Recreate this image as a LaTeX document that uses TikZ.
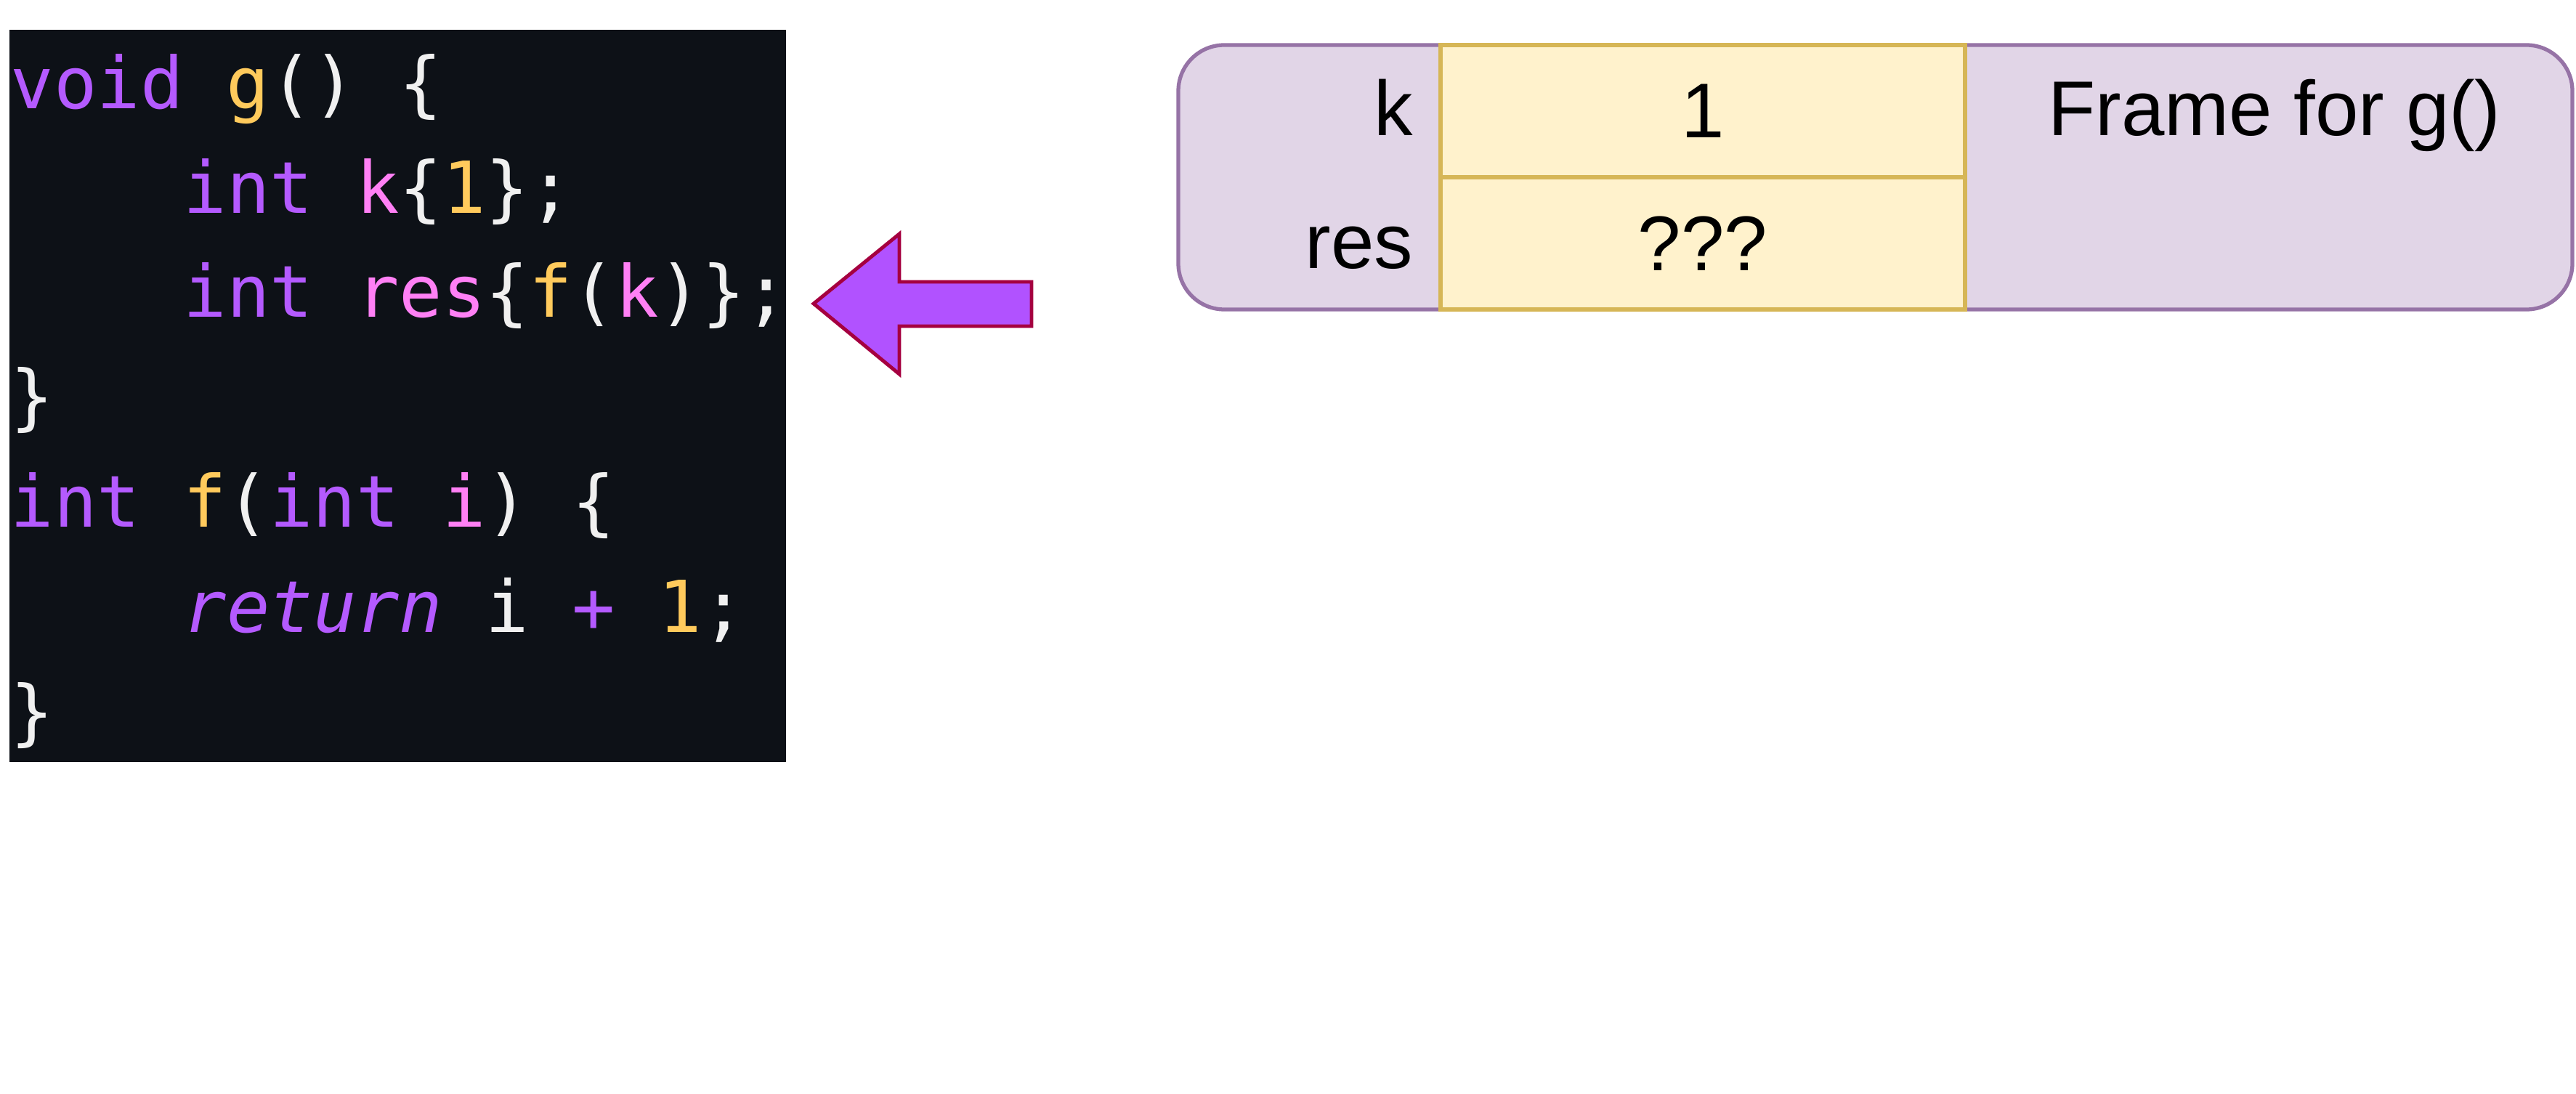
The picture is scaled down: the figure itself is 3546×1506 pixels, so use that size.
\documentclass[tikz,border=0pt]{standalone}
\usepackage{fontspec}
\setmainfont{Liberation Sans}
\newfontfamily\codefont{DejaVu Sans Mono}
\usetikzlibrary{positioning}

\definecolor{codebg}{HTML}{0D1117}
\definecolor{codewhite}{HTML}{F0F0F0}
\definecolor{codepurple}{HTML}{B45AFF}
\definecolor{codeyellow}{HTML}{FFCA5C}
\definecolor{codepink}{HTML}{FF80F5}
\definecolor{framefill}{HTML}{E1D5E7}
\definecolor{framedraw}{HTML}{9673A6}
\definecolor{cellfill}{HTML}{FFF2CC}
\definecolor{celldraw}{HTML}{D6B656}
\definecolor{arrowfill}{HTML}{B152FF}
\definecolor{arrowdraw}{HTML}{A50040}

\newcommand\ckw[1]{\textcolor{codepurple}{#1}}
\newcommand\cfun[1]{\textcolor{codeyellow}{#1}}
\newcommand\cvar[1]{\textcolor{codepink}{#1}}
\newcommand\cnum[1]{\textcolor{codeyellow}{#1}}

\begin{document}
\begin{tikzpicture} [x=0.1mm, y=-0.1mm,
        codeline/.style={anchor=base west, inner sep=0, text=codewhite,
            font=\codefont\fontsize{28.1pt}{34pt}\selectfont},
        framebox/.style={draw=framedraw, fill=framefill, line width=1.5pt,
            rounded corners=18pt, minimum width=191.9mm, minimum height=36.4mm},
        cellbox/.style={draw=celldraw, fill=cellfill, line width=1.5pt,
            minimum width=72.2mm, minimum height=18.2mm,
            font=\fontsize{30.4pt}{36pt}\selectfont},
        label/.style={inner sep=0, font=\fontsize{30.4pt}{36pt}\selectfont},
        pointer/.style={draw=arrowdraw, fill=arrowfill, line width=1.4pt, line join=miter}]
            \useasboundingbox (0,0) rectangle (3546,1506);

            \node[fill=codebg, inner sep=0, minimum width=106.9mm, minimum height=100.8mm] (codebox) at (547.5,545) {};
            \node[codeline] (l1) at (14,150)   {\ckw{void} \cfun{g}() \{};
            \node[codeline] (l2) at (252,294)  {\ckw{int} \cvar{k}\{\cnum{1}\};};
            \node[codeline] (l3) at (252,437)  {\ckw{int} \cvar{res}\{\cfun{f}(\cvar{k})\};};
            \node[codeline] (l4) at (14,581)   {\}};
            \node[codeline] (l5) at (14,726)   {\ckw{int} \cfun{f}(\ckw{int} \cvar{i}) \{};
            \node[codeline] (l6) at (252,870)  {\ckw{\itshape return} i \ckw{\itshape +} \cnum{1};};
            \node[codeline] (l7) at (14,1014)  {\}};

            \draw[pointer] (1120,418) -- (1238,322) -- (1238,388) -- (1420,388)
                -- (1420,449) -- (1238,449) -- (1238,515) -- cycle;

            \node[framebox] (frame) at (2581.5,244) {};
            \node[cellbox] (kval) at (2344,153)   {1};
            \node[cellbox] (resval) at (2344,335) {???};
            \node[label, anchor=base east] (klabel) at (1946,187)   {k};
            \node[label, anchor=base east] (reslabel) at (1946,370) {res};
            \node[label, anchor=base] (framelabel) at (3131,187)    {Frame for g()};
        \end{tikzpicture}
\end{document}
